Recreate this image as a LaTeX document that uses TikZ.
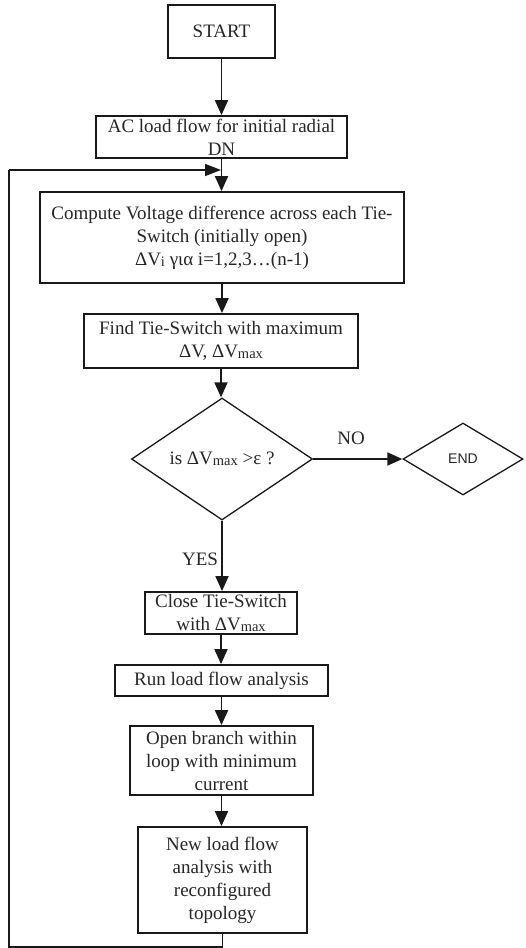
\documentclass[tikz,border=0pt]{standalone}
\usepackage{fontspec}
\setmainfont{Liberation Serif}
\newfontfamily\labelsans{Liberation Sans}
\usetikzlibrary{shapes.geometric,arrows.meta}
\newcommand\lowsub[1]{\raisebox{-1.2pt}{\fontsize{14.5}{14.5}\selectfont #1}}
\begin{document}
\begin{tikzpicture}[x=1pt,y=-1pt,
  stepbox/.style={draw=black!90, line width=1.8pt, rectangle, inner sep=0pt,
    align=center, font=\fontsize{19}{23}\selectfont, text=black!85},
  decision/.style={draw=black!90, line width=1.3pt, diamond, inner sep=0pt,
    align=center, text=black!85},
  flow/.style={draw=black!90, line width=1.8pt, -{Triangle[length=15pt,width=13pt]}},
  loopline/.style={draw=black!90, line width=1.5pt},
  tag/.style={font=\fontsize{19}{22}\selectfont, text=black!85, inner sep=0pt}]
\useasboundingbox (0,0) rectangle (526,948);

\node[stepbox, minimum width=107pt, minimum height=53pt] (start) at (221.5,31.5) {START};
\node[stepbox, minimum width=251pt, minimum height=42pt] (acflow) at (221.5,137)
  {AC load flow for initial radial\\DN};
\node[stepbox, minimum width=364pt, minimum height=91pt] (compute) at (222,237.5)
  {Compute Voltage difference across each Tie-\\Switch (initially open)\\
   ΔV\lowsub{i} για i=1,2,3…(n-1)};
\node[stepbox, minimum width=274pt, minimum height=54pt] (findmax) at (221,341)
  {Find Tie-Switch with maximum\\ΔV, ΔV\lowsub{max}};
\node[decision, minimum width=181pt, minimum height=122pt,
  font=\fontsize{19}{22}\selectfont] (check) at (222,459)
  {is ΔV\lowsub{max} >ε ?};
\node[decision, minimum width=120pt, minimum height=72pt,
  font=\labelsans\fontsize{14}{16}\selectfont] (finish) at (463,459) {END};
\node[stepbox, minimum width=152pt, minimum height=42pt] (closets) at (221,613)
  {Close Tie-Switch\\with ΔV\lowsub{max}};
\node[stepbox, minimum width=213pt, minimum height=31pt] (runlf) at (221.5,680.5)
  {Run load flow analysis};
\node[stepbox, minimum width=183pt, minimum height=69pt] (openbr) at (221.5,760.5)
  {Open branch within\\loop with minimum\\current};
\node[stepbox, minimum width=169pt, minimum height=106pt] (newlf) at (222.5,880)
  {New load flow\\analysis with\\reconfigured\\topology};

\node[tag] (nolabel) at (351,438) {NO};
\node[tag] (yeslabel) at (200,559) {YES};

\coordinate (loopin) at (221,170);
\coordinate (loopbl) at (9,947);
\coordinate (looptl) at (9,170);

\draw[flow] (start.south) -- (start.south |- acflow.north);
\draw[flow] (acflow.south) -- (acflow.south |- compute.north);
\draw[flow] (compute.south) -- (compute.south |- findmax.north);
\draw[flow] (findmax.south) -- (findmax.south |- check.north);
\draw[flow] (check.east) -- (finish.west);
\draw[flow] (check.south) -- (check.south |- closets.north);
\draw[flow] (closets.south) -- (closets.south |- runlf.north);
\draw[flow] (runlf.south) -- (runlf.south |- openbr.north);
\draw[flow] (openbr.south) -- (openbr.south |- newlf.north);
\draw[loopline] (newlf.south) |- (loopbl) -- (looptl);
\draw[flow, line width=1.5pt, -{Triangle[length=16pt,width=12pt]}] (looptl) -- (loopin);
\end{tikzpicture}
\end{document}
